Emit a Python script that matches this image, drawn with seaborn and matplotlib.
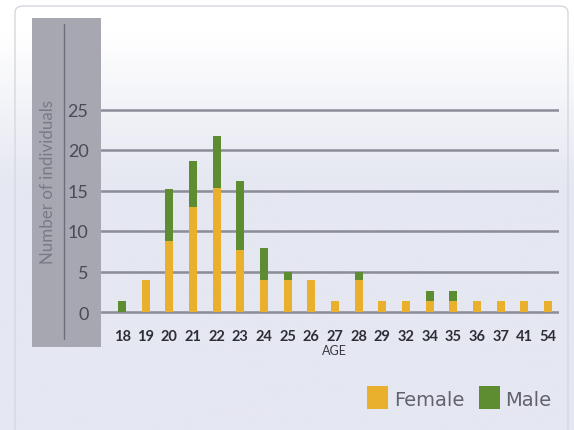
import numpy as np
import pandas as pd
import matplotlib
matplotlib.use("Agg")
import matplotlib.pyplot as plt
from matplotlib.patches import Rectangle, FancyBboxPatch
import seaborn as sns

# Age groups and head counts
ages = ["18", "19", "20", "21", "22", "23", "24", "25", "26", "27",
        "28", "29", "32", "34", "35", "36", "37", "41", "54"]
female = [0, 4, 8.8, 13, 15.3, 7.6, 4, 4, 4, 1.3,
          4, 1.3, 1.3, 1.3, 1.3, 1.3, 1.3, 1.3, 1.3]
male = [1.4, 0, 6.4, 5.6, 6.4, 8.6, 3.9, 1.0, 0, 0,
        1.0, 0, 0, 1.3, 1.3, 0, 0, 0, 0]
y_ticks = [0, 5, 10, 15, 20, 25]

FEMALE_C = "#e9b02e"
MALE_C = "#5e8d31"
GRID_C = "#8b8b99"

df = pd.DataFrame({"age": ages, "female": female, "male": male})
df["total"] = df["female"] + df["male"]

sns.set_theme(style="white")
plt.rcParams["font.family"] = ["Lato", "DejaVu Sans"]

W, H = 574, 431
fig = plt.figure(figsize=(W / 100, H / 100), dpi=100)

def fx(px):
    return px / W

def fy(py):
    return 1 - py / H

# vertical white-to-lavender background
bg = fig.add_axes([0, 0, 1, 1], zorder=-10)
grad = np.linspace(0, 1, 256)
grad = np.clip((grad - 0.08) / 0.35, 0, 1)[:, None]
top = np.array([1.0, 1.0, 1.0])
bot = np.array([0xe5, 0xe7, 0xf1]) / 255
img = top[None, None, :] * (1 - grad[..., None]) + bot[None, None, :] * grad[..., None]
img = np.repeat(img, 2, axis=1)
bg.imshow(img, aspect="auto", extent=[0, 1, 0, 1], origin="upper")
bg.set_xlim(0, 1)
bg.set_ylim(0, 1)
bg.axis("off")

# outer card border
fig.patches.append(FancyBboxPatch((fx(15), fy(440)), fx(553), (440 - 7) / H,
                                  boxstyle="round,pad=0,rounding_size=0.015",
                                  transform=fig.transFigure, facecolor="none",
                                  edgecolor="#d6d8e0", linewidth=1.0, zorder=-5))

# grey band behind the y axis
fig.patches.append(Rectangle((fx(32), fy(348)), fx(101 - 32), (348 - 19) / H,
                             transform=fig.transFigure, facecolor="#a7a7b1",
                             edgecolor="none", zorder=-4))
fig.add_artist(plt.Line2D([fx(64), fx(64)], [fy(340), fy(25)],
                          transform=fig.transFigure, color="#6e6e7a", lw=1.0))

# plot axes
x0, x1 = 101, 559
y_lo, y_hi = -0.5, 25.5
ppu = 8.1
ax_bottom_px = 313 + 0.5 * ppu
ax_h_px = (y_hi - y_lo) * ppu
ax = fig.add_axes([fx(x0), fy(ax_bottom_px), fx(x1 - x0), ax_h_px / H])
ax.set_facecolor("none")

for t in y_ticks:
    ax.axhline(t, color=GRID_C, lw=1.8, zorder=1)

sns.barplot(data=df, x="age", y="total", order=ages, color=MALE_C,
            width=0.34, saturation=1, linewidth=0, ax=ax, zorder=2)
sns.barplot(data=df, x="age", y="female", order=ages, color=FEMALE_C,
            width=0.34, saturation=1, linewidth=0, ax=ax, zorder=3)

ax.set_xlim(-0.89, 18.46)
ax.set_ylim(y_lo, y_hi)
sns.despine(ax=ax, left=True, bottom=True)
ax.set_xlabel("")
ax.set_ylabel("")
ax.set_yticks(y_ticks)
ax.set_yticklabels([str(t) for t in y_ticks], fontsize=13, color="#4a4a54")
ax.tick_params(axis="y", length=0, pad=9)
ax.tick_params(axis="x", length=0, pad=9, labelsize=10.5, labelcolor="#2e2e36")
for lab in ax.get_xticklabels():
    lab.set_fontweight("bold")

fig.text(fx(334), fy(351), "AGE", ha="center", va="center",
         fontsize=9, color="#3a3a42")
fig.text(fx(48), fy(182), "Number of individuals", rotation=90,
         ha="center", va="center", fontsize=12.2, color="#7a7a86")

# legend
fig.patches.append(Rectangle((fx(367), fy(410)), fx(21), 23 / H,
                             transform=fig.transFigure, facecolor=FEMALE_C,
                             edgecolor="none"))
fig.text(fx(394), fy(401), "Female", ha="left", va="center",
         fontsize=14, color="#62626f", family="DejaVu Sans")
fig.patches.append(Rectangle((fx(479), fy(410)), fx(21), 23 / H,
                             transform=fig.transFigure, facecolor=MALE_C,
                             edgecolor="none"))
fig.text(fx(505), fy(401), "Male", ha="left", va="center",
         fontsize=14, color="#62626f", family="DejaVu Sans")

fig.savefig("out.png", dpi=100)
